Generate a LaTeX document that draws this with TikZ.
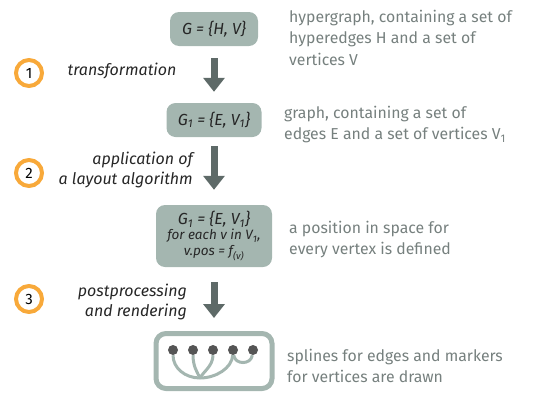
\documentclass[tikz,border=0pt]{standalone}
\usepackage{fontspec}
\setmainfont{Fira Sans}
\usetikzlibrary{arrows.meta,calc}
\definecolor{boxfill}{RGB}{164,182,176}
\definecolor{flowgray}{RGB}{94,106,104}
\definecolor{descgray}{RGB}{118,128,126}
\definecolor{steporange}{RGB}{248,169,58}
\definecolor{dotgray}{RGB}{85,85,85}
\tikzset{
    block/.style = {fill=boxfill, rounded corners=9pt, inner sep=0pt,
        minimum height=34pt, align=center, text=black!85,
        font=\fontsize{16}{18}\selectfont\itshape},
    render/.style = {draw=boxfill, line width=5pt, rounded corners=10pt,
        minimum width=116pt, minimum height=55pt},
    flow/.style = {draw=flowgray, line width=7pt, -{Triangle[width=21pt,length=14pt]}},
    desc/.style = {anchor=base west, inner sep=0pt, align=left, text=descgray,
        font=\fontsize{15.8}{21.7}\selectfont},
    action/.style = {align=right, inner sep=0pt, text=black!85,
        font=\fontsize{16}{20}\selectfont\itshape},
    stepnum/.style = {draw=steporange, line width=4pt, circle, minimum size=26pt,
        inner sep=0pt, font=\fontsize{15}{15}\selectfont},
    vertex/.style = {circle, fill=dotgray, minimum size=10pt, inner sep=0pt},
    spline/.style = {draw=boxfill, line width=3pt}
}
\newcommand{\smallline}{\fontsize{13.5}{15}\selectfont}

\begin{document}
\begin{tikzpicture}[x=1pt, y=1pt, node distance=91pt]
        \useasboundingbox (0,0) rectangle (533,-394);
        % the four stages
        \node [block, minimum width=88pt, name=hyp] at (214,-29) {G = \{H, V\}};
        \node [block, minimum width=95pt, below of=hyp, name=gra] {G\textsubscript{1} = \{E, V\textsubscript{1}\}};
        \node [block, minimum width=116pt, minimum height=62pt, below of=gra, node distance=116pt, name=lay]
            {G\textsubscript{1} = \{E, V\textsubscript{1}\}\\[-3pt]
             {\smallline for each v in V\textsubscript{1},}\\[-2pt]
             {\smallline v.pos = f\textsubscript{(v)}}};
        \node [render, below of=lay, node distance=125pt, name=ren] {};
        \draw [flow, shorten <=12pt, shorten >=11pt] (hyp) -- (gra);
        \draw [flow, shorten <=9pt, shorten >=15pt] (gra) -- (lay);
        \draw [flow, shorten <=15pt, shorten >=13pt] (lay) -- (ren);
        % rendered graph
        \foreach \i in {1,...,5}{
            \node [vertex, name=v\i] at ($(ren.center)+(-61+20*\i,11)$) {};
        }
        \coordinate (root) at ($(ren.center)+(-14,-17)$);
        \draw [spline] (v1) .. controls +(0,-18) and +(-15,0) .. (root);
        \draw [spline] (v2) .. controls +(0,-16) and +(-3,6) .. (root);
        \draw [spline] (v3) .. controls +(0,-16) and +(3,6) .. (root);
        \draw [spline] (v4) .. controls +(-1,-18) and +(16,0) .. (root);
        \draw [spline] (v4) .. controls +(2,-15) and +(-2,-15) .. (v5);
        % steps
        \node [stepnum, name=s1] at (29,-73) {1};
        \node [stepnum, name=s2] at (29,-173) {2};
        \node [stepnum, name=s3] at (29,-299) {3};
        \node [action, anchor=base, name=act1] at (122,-75) {transformation};
        \node [action, anchor=east, name=act2] at (193,-170) {application of\\a layout algorithm};
        \node [action, anchor=east, name=act3] at (187,-302) {postprocessing\\and rendering};
        % descriptions (base is the last line)
        \node [desc, name=d1] at (289,-65.4) {hypergraph, containing a set of\\hyperedges H and a set of\\vertices V};
        \node [desc, name=d2] at (284,-139.7) {graph, containing a set of\\edges E and a set of vertices V\textsubscript{1}};
        \node [desc, name=d3] at (289,-254.7) {a position in space for\\every vertex is defined};
        \node [desc, name=d4] at (287,-382.7) {splines for edges and markers\\for vertices are drawn};
    \end{tikzpicture}
\end{document}
